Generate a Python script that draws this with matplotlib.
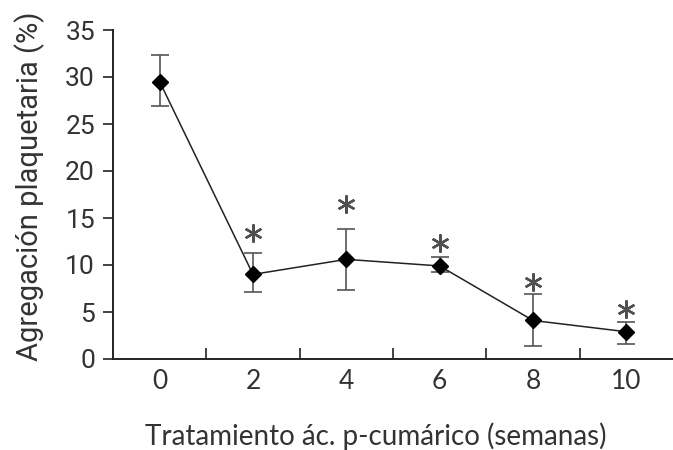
import matplotlib
matplotlib.use("Agg")
import matplotlib.pyplot as plt
import numpy as np

weeks = [0, 2, 4, 6, 8, 10]
aggregation = [29.5, 9.0, 10.6, 9.9, 4.1, 2.9]
err_low = [2.6, 1.9, 3.3, 0.6, 2.7, 1.3]
err_high = [2.8, 2.3, 3.2, 0.9, 2.8, 1.0]
sig_weeks = [2, 4, 6, 8, 10]
sig_y = [13.4, 16.5, 12.3, 8.2, 5.3]
xtick_labels = ["0", "2", "4", "6", "8", "10"]
yticks = [0, 5, 10, 15, 20, 25, 30, 35]

fig = plt.figure(figsize=(6.73, 4.5), dpi=100)
ax = fig.add_axes([113/673, 1-359/450, 1-113/673, (359-30)/450])

ax.errorbar(weeks, aggregation, yerr=[err_low, err_high], fmt='none',
            ecolor='#555555', elinewidth=1.2, capsize=6.5, capthick=1.2, zorder=2)
ax.plot(weeks, aggregation, color='#222222', lw=1.1, marker='D', ms=8,
        mfc='black', mec='black', zorder=3)
ax.plot(sig_weeks, sig_y, linestyle='none', marker=(6, 2, 0), ms=13,
        mew=1.7, color='#505050', zorder=3)

ax.set_xlim(-1, 11)
ax.set_ylim(0, 35)
ax.spines['top'].set_visible(False)
ax.spines['right'].set_visible(False)
for s in ('left', 'bottom'):
    ax.spines[s].set_linewidth(1.4)
    ax.spines[s].set_color('#222222')

ax.set_yticks(yticks)
ax.set_yticklabels([str(v) for v in yticks], fontfamily='Roboto', fontsize=19, color='#333333')
ax.tick_params(axis='y', direction='out', length=7, width=1.2, pad=6, color='#222222')

ax.set_xticks([1, 3, 5, 7, 9])
ax.set_xticklabels([])
ax.set_xticks(weeks, minor=True)
ax.set_xticklabels(xtick_labels, minor=True, fontfamily='Lato', fontsize=19, color='#333333')
ax.tick_params(axis='x', which='major', direction='in', length=8, width=1.2, color='#222222')
ax.tick_params(axis='x', which='minor', length=0, pad=7)

ax.set_ylabel('Agregación plaquetaria (%)', fontfamily='Roboto', fontsize=21,
              color='#333333', va='center')
ax.yaxis.set_label_coords(-0.148, 0.524)
ax.set_xlabel('Tratamiento ác. p-cumárico (semanas)', fontfamily='Lato', fontsize=20,
              color='#333333', va='center')
ax.xaxis.set_label_coords(0.47, -0.235)

fig.savefig('out.png', dpi=100)
